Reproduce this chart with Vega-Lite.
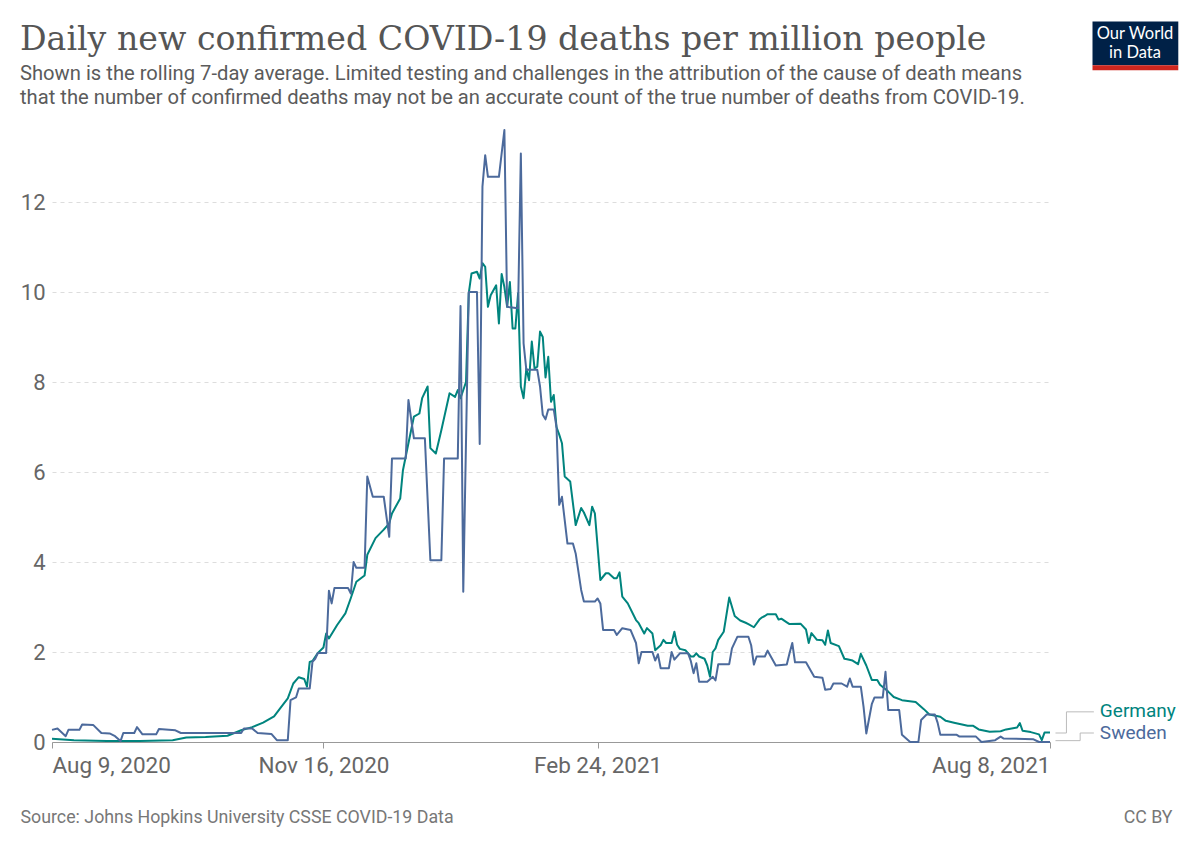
{
  "$schema": "https://vega.github.io/schema/vega-lite/v6.json",
  "width": 998,
  "height": 612,
  "autosize": "none",
  "padding": {"left": 52, "top": 130, "right": 150, "bottom": 105},
  "background": "white",
  "title": {
    "text": "Daily new confirmed COVID-19 deaths per million people",
    "subtitle": [
      "Shown is the rolling 7-day average. Limited testing and challenges in the attribution of the cause of death means",
      "that the number of confirmed deaths may not be an accurate count of the true number of deaths from COVID-19."
    ],
    "anchor": "start",
    "frame": "group",
    "dx": -32,
    "offset": -88,
    "font": "DejaVu Serif",
    "fontSize": 33.2,
    "fontWeight": "normal",
    "color": "#555555",
    "subtitleFont": "Roboto",
    "subtitleFontSize": 20.2,
    "subtitleColor": "#5b5b5b",
    "subtitleLineHeight": 24,
    "subtitlePadding": 7
  },
  "datasets": {
    "deaths": [
      {"country": "Germany", "date": "2020-08-09", "value": 0.07},
      {"country": "Germany", "date": "2020-08-17", "value": 0.04},
      {"country": "Germany", "date": "2020-08-29", "value": 0.02},
      {"country": "Germany", "date": "2020-09-10", "value": 0.02},
      {"country": "Germany", "date": "2020-09-22", "value": 0.04},
      {"country": "Germany", "date": "2020-09-27", "value": 0.1},
      {"country": "Germany", "date": "2020-10-04", "value": 0.11},
      {"country": "Germany", "date": "2020-10-12", "value": 0.14},
      {"country": "Germany", "date": "2020-10-17", "value": 0.26},
      {"country": "Germany", "date": "2020-10-21", "value": 0.33},
      {"country": "Germany", "date": "2020-10-25", "value": 0.43},
      {"country": "Germany", "date": "2020-10-29", "value": 0.57},
      {"country": "Germany", "date": "2020-10-31", "value": 0.73},
      {"country": "Germany", "date": "2020-11-03", "value": 0.97},
      {"country": "Germany", "date": "2020-11-05", "value": 1.3},
      {"country": "Germany", "date": "2020-11-07", "value": 1.44},
      {"country": "Germany", "date": "2020-11-09", "value": 1.4},
      {"country": "Germany", "date": "2020-11-10", "value": 1.23},
      {"country": "Germany", "date": "2020-11-11", "value": 1.78},
      {"country": "Germany", "date": "2020-11-12", "value": 1.8},
      {"country": "Germany", "date": "2020-11-14", "value": 1.98},
      {"country": "Germany", "date": "2020-11-16", "value": 2.1},
      {"country": "Germany", "date": "2020-11-17", "value": 2.41},
      {"country": "Germany", "date": "2020-11-18", "value": 2.3},
      {"country": "Germany", "date": "2020-11-21", "value": 2.6},
      {"country": "Germany", "date": "2020-11-24", "value": 2.86},
      {"country": "Germany", "date": "2020-11-26", "value": 3.2},
      {"country": "Germany", "date": "2020-11-28", "value": 3.56},
      {"country": "Germany", "date": "2020-12-01", "value": 3.7},
      {"country": "Germany", "date": "2020-12-02", "value": 4.16},
      {"country": "Germany", "date": "2020-12-05", "value": 4.53},
      {"country": "Germany", "date": "2020-12-08", "value": 4.72},
      {"country": "Germany", "date": "2020-12-10", "value": 4.86},
      {"country": "Germany", "date": "2020-12-11", "value": 5.08},
      {"country": "Germany", "date": "2020-12-14", "value": 5.41},
      {"country": "Germany", "date": "2020-12-15", "value": 6.04},
      {"country": "Germany", "date": "2020-12-17", "value": 6.64},
      {"country": "Germany", "date": "2020-12-19", "value": 7.23},
      {"country": "Germany", "date": "2020-12-21", "value": 7.3},
      {"country": "Germany", "date": "2020-12-22", "value": 7.64},
      {"country": "Germany", "date": "2020-12-24", "value": 7.9},
      {"country": "Germany", "date": "2020-12-25", "value": 6.53},
      {"country": "Germany", "date": "2020-12-27", "value": 6.41},
      {"country": "Germany", "date": "2020-12-29", "value": 6.93},
      {"country": "Germany", "date": "2021-01-01", "value": 7.75},
      {"country": "Germany", "date": "2021-01-03", "value": 7.67},
      {"country": "Germany", "date": "2021-01-04", "value": 7.82},
      {"country": "Germany", "date": "2021-01-05", "value": 7.64},
      {"country": "Germany", "date": "2021-01-07", "value": 8.0},
      {"country": "Germany", "date": "2021-01-08", "value": 9.97},
      {"country": "Germany", "date": "2021-01-09", "value": 10.41},
      {"country": "Germany", "date": "2021-01-11", "value": 10.45},
      {"country": "Germany", "date": "2021-01-12", "value": 10.3},
      {"country": "Germany", "date": "2021-01-13", "value": 10.64},
      {"country": "Germany", "date": "2021-01-14", "value": 10.56},
      {"country": "Germany", "date": "2021-01-15", "value": 9.67},
      {"country": "Germany", "date": "2021-01-16", "value": 9.93},
      {"country": "Germany", "date": "2021-01-18", "value": 10.15},
      {"country": "Germany", "date": "2021-01-19", "value": 9.3},
      {"country": "Germany", "date": "2021-01-20", "value": 10.4},
      {"country": "Germany", "date": "2021-01-21", "value": 10.11},
      {"country": "Germany", "date": "2021-01-22", "value": 9.67},
      {"country": "Germany", "date": "2021-01-23", "value": 10.22},
      {"country": "Germany", "date": "2021-01-24", "value": 9.19},
      {"country": "Germany", "date": "2021-01-25", "value": 9.19},
      {"country": "Germany", "date": "2021-01-26", "value": 9.97},
      {"country": "Germany", "date": "2021-01-27", "value": 7.9},
      {"country": "Germany", "date": "2021-01-28", "value": 7.64},
      {"country": "Germany", "date": "2021-01-29", "value": 8.3},
      {"country": "Germany", "date": "2021-01-30", "value": 8.04},
      {"country": "Germany", "date": "2021-01-31", "value": 8.9},
      {"country": "Germany", "date": "2021-02-01", "value": 8.3},
      {"country": "Germany", "date": "2021-02-02", "value": 8.34},
      {"country": "Germany", "date": "2021-02-03", "value": 9.12},
      {"country": "Germany", "date": "2021-02-04", "value": 9.0},
      {"country": "Germany", "date": "2021-02-05", "value": 8.1},
      {"country": "Germany", "date": "2021-02-06", "value": 8.56},
      {"country": "Germany", "date": "2021-02-07", "value": 7.56},
      {"country": "Germany", "date": "2021-02-08", "value": 7.71},
      {"country": "Germany", "date": "2021-02-09", "value": 7.0},
      {"country": "Germany", "date": "2021-02-10", "value": 6.83},
      {"country": "Germany", "date": "2021-02-11", "value": 6.64},
      {"country": "Germany", "date": "2021-02-12", "value": 5.9},
      {"country": "Germany", "date": "2021-02-14", "value": 5.79},
      {"country": "Germany", "date": "2021-02-16", "value": 4.82},
      {"country": "Germany", "date": "2021-02-18", "value": 5.2},
      {"country": "Germany", "date": "2021-02-19", "value": 5.1},
      {"country": "Germany", "date": "2021-02-21", "value": 4.82},
      {"country": "Germany", "date": "2021-02-22", "value": 5.23},
      {"country": "Germany", "date": "2021-02-23", "value": 5.08},
      {"country": "Germany", "date": "2021-02-25", "value": 3.6},
      {"country": "Germany", "date": "2021-02-27", "value": 3.75},
      {"country": "Germany", "date": "2021-02-28", "value": 3.75},
      {"country": "Germany", "date": "2021-03-02", "value": 3.64},
      {"country": "Germany", "date": "2021-03-03", "value": 3.64},
      {"country": "Germany", "date": "2021-03-04", "value": 3.77},
      {"country": "Germany", "date": "2021-03-05", "value": 3.23},
      {"country": "Germany", "date": "2021-03-07", "value": 3.08},
      {"country": "Germany", "date": "2021-03-10", "value": 2.71},
      {"country": "Germany", "date": "2021-03-11", "value": 2.64},
      {"country": "Germany", "date": "2021-03-13", "value": 2.41},
      {"country": "Germany", "date": "2021-03-14", "value": 2.53},
      {"country": "Germany", "date": "2021-03-16", "value": 2.41},
      {"country": "Germany", "date": "2021-03-17", "value": 2.04},
      {"country": "Germany", "date": "2021-03-19", "value": 2.15},
      {"country": "Germany", "date": "2021-03-20", "value": 2.27},
      {"country": "Germany", "date": "2021-03-21", "value": 2.2},
      {"country": "Germany", "date": "2021-03-23", "value": 2.2},
      {"country": "Germany", "date": "2021-03-24", "value": 2.45},
      {"country": "Germany", "date": "2021-03-25", "value": 2.16},
      {"country": "Germany", "date": "2021-03-26", "value": 2.07},
      {"country": "Germany", "date": "2021-03-28", "value": 2.04},
      {"country": "Germany", "date": "2021-03-30", "value": 1.9},
      {"country": "Germany", "date": "2021-03-31", "value": 1.9},
      {"country": "Germany", "date": "2021-04-01", "value": 1.97},
      {"country": "Germany", "date": "2021-04-02", "value": 1.9},
      {"country": "Germany", "date": "2021-04-04", "value": 1.85},
      {"country": "Germany", "date": "2021-04-05", "value": 1.7},
      {"country": "Germany", "date": "2021-04-06", "value": 1.45},
      {"country": "Germany", "date": "2021-04-07", "value": 2.0},
      {"country": "Germany", "date": "2021-04-08", "value": 2.08},
      {"country": "Germany", "date": "2021-04-09", "value": 2.27},
      {"country": "Germany", "date": "2021-04-11", "value": 2.45},
      {"country": "Germany", "date": "2021-04-13", "value": 3.21},
      {"country": "Germany", "date": "2021-04-15", "value": 2.8},
      {"country": "Germany", "date": "2021-04-17", "value": 2.7},
      {"country": "Germany", "date": "2021-04-19", "value": 2.65},
      {"country": "Germany", "date": "2021-04-20", "value": 2.62},
      {"country": "Germany", "date": "2021-04-22", "value": 2.55},
      {"country": "Germany", "date": "2021-04-24", "value": 2.72},
      {"country": "Germany", "date": "2021-04-25", "value": 2.77},
      {"country": "Germany", "date": "2021-04-26", "value": 2.8},
      {"country": "Germany", "date": "2021-04-27", "value": 2.84},
      {"country": "Germany", "date": "2021-04-30", "value": 2.84},
      {"country": "Germany", "date": "2021-05-01", "value": 2.72},
      {"country": "Germany", "date": "2021-05-02", "value": 2.74},
      {"country": "Germany", "date": "2021-05-04", "value": 2.66},
      {"country": "Germany", "date": "2021-05-05", "value": 2.62},
      {"country": "Germany", "date": "2021-05-09", "value": 2.63},
      {"country": "Germany", "date": "2021-05-11", "value": 2.5},
      {"country": "Germany", "date": "2021-05-12", "value": 2.2},
      {"country": "Germany", "date": "2021-05-13", "value": 2.42},
      {"country": "Germany", "date": "2021-05-15", "value": 2.27},
      {"country": "Germany", "date": "2021-05-17", "value": 2.26},
      {"country": "Germany", "date": "2021-05-18", "value": 2.16},
      {"country": "Germany", "date": "2021-05-19", "value": 2.48},
      {"country": "Germany", "date": "2021-05-20", "value": 2.2},
      {"country": "Germany", "date": "2021-05-23", "value": 2.13},
      {"country": "Germany", "date": "2021-05-25", "value": 1.85},
      {"country": "Germany", "date": "2021-05-26", "value": 1.84},
      {"country": "Germany", "date": "2021-05-28", "value": 1.81},
      {"country": "Germany", "date": "2021-05-30", "value": 1.73},
      {"country": "Germany", "date": "2021-05-31", "value": 1.96},
      {"country": "Germany", "date": "2021-06-02", "value": 1.7},
      {"country": "Germany", "date": "2021-06-04", "value": 1.38},
      {"country": "Germany", "date": "2021-06-06", "value": 1.38},
      {"country": "Germany", "date": "2021-06-07", "value": 1.27},
      {"country": "Germany", "date": "2021-06-10", "value": 1.12},
      {"country": "Germany", "date": "2021-06-12", "value": 1.0},
      {"country": "Germany", "date": "2021-06-15", "value": 0.93},
      {"country": "Germany", "date": "2021-06-20", "value": 0.89},
      {"country": "Germany", "date": "2021-06-23", "value": 0.73},
      {"country": "Germany", "date": "2021-06-25", "value": 0.61},
      {"country": "Germany", "date": "2021-06-29", "value": 0.56},
      {"country": "Germany", "date": "2021-07-01", "value": 0.47},
      {"country": "Germany", "date": "2021-07-04", "value": 0.43},
      {"country": "Germany", "date": "2021-07-09", "value": 0.36},
      {"country": "Germany", "date": "2021-07-11", "value": 0.36},
      {"country": "Germany", "date": "2021-07-13", "value": 0.28},
      {"country": "Germany", "date": "2021-07-17", "value": 0.23},
      {"country": "Germany", "date": "2021-07-21", "value": 0.24},
      {"country": "Germany", "date": "2021-07-23", "value": 0.28},
      {"country": "Germany", "date": "2021-07-27", "value": 0.32},
      {"country": "Germany", "date": "2021-07-28", "value": 0.42},
      {"country": "Germany", "date": "2021-07-29", "value": 0.25},
      {"country": "Germany", "date": "2021-08-01", "value": 0.22},
      {"country": "Germany", "date": "2021-08-04", "value": 0.17},
      {"country": "Germany", "date": "2021-08-05", "value": 0.04},
      {"country": "Germany", "date": "2021-08-06", "value": 0.21},
      {"country": "Germany", "date": "2021-08-08", "value": 0.21},
      {"country": "Sweden", "date": "2020-08-09", "value": 0.27},
      {"country": "Sweden", "date": "2020-08-11", "value": 0.3},
      {"country": "Sweden", "date": "2020-08-14", "value": 0.13},
      {"country": "Sweden", "date": "2020-08-15", "value": 0.27},
      {"country": "Sweden", "date": "2020-08-19", "value": 0.27},
      {"country": "Sweden", "date": "2020-08-20", "value": 0.39},
      {"country": "Sweden", "date": "2020-08-24", "value": 0.38},
      {"country": "Sweden", "date": "2020-08-27", "value": 0.2},
      {"country": "Sweden", "date": "2020-08-30", "value": 0.19},
      {"country": "Sweden", "date": "2020-09-01", "value": 0.13},
      {"country": "Sweden", "date": "2020-09-03", "value": 0.02},
      {"country": "Sweden", "date": "2020-09-04", "value": 0.2},
      {"country": "Sweden", "date": "2020-09-08", "value": 0.2},
      {"country": "Sweden", "date": "2020-09-09", "value": 0.33},
      {"country": "Sweden", "date": "2020-09-11", "value": 0.17},
      {"country": "Sweden", "date": "2020-09-16", "value": 0.17},
      {"country": "Sweden", "date": "2020-09-17", "value": 0.29},
      {"country": "Sweden", "date": "2020-09-23", "value": 0.26},
      {"country": "Sweden", "date": "2020-09-25", "value": 0.2},
      {"country": "Sweden", "date": "2020-10-17", "value": 0.2},
      {"country": "Sweden", "date": "2020-10-18", "value": 0.3},
      {"country": "Sweden", "date": "2020-10-21", "value": 0.3},
      {"country": "Sweden", "date": "2020-10-23", "value": 0.2},
      {"country": "Sweden", "date": "2020-10-28", "value": 0.18},
      {"country": "Sweden", "date": "2020-10-30", "value": 0.04},
      {"country": "Sweden", "date": "2020-11-03", "value": 0.04},
      {"country": "Sweden", "date": "2020-11-04", "value": 0.93},
      {"country": "Sweden", "date": "2020-11-06", "value": 0.99},
      {"country": "Sweden", "date": "2020-11-07", "value": 1.19},
      {"country": "Sweden", "date": "2020-11-11", "value": 1.19},
      {"country": "Sweden", "date": "2020-11-12", "value": 1.78},
      {"country": "Sweden", "date": "2020-11-13", "value": 1.85},
      {"country": "Sweden", "date": "2020-11-14", "value": 1.98},
      {"country": "Sweden", "date": "2020-11-17", "value": 1.98},
      {"country": "Sweden", "date": "2020-11-18", "value": 3.36},
      {"country": "Sweden", "date": "2020-11-19", "value": 3.08},
      {"country": "Sweden", "date": "2020-11-20", "value": 3.42},
      {"country": "Sweden", "date": "2020-11-25", "value": 3.42},
      {"country": "Sweden", "date": "2020-11-26", "value": 3.3},
      {"country": "Sweden", "date": "2020-11-27", "value": 4.0},
      {"country": "Sweden", "date": "2020-11-28", "value": 3.87},
      {"country": "Sweden", "date": "2020-12-01", "value": 3.87},
      {"country": "Sweden", "date": "2020-12-02", "value": 5.9},
      {"country": "Sweden", "date": "2020-12-04", "value": 5.45},
      {"country": "Sweden", "date": "2020-12-08", "value": 5.45},
      {"country": "Sweden", "date": "2020-12-10", "value": 4.56},
      {"country": "Sweden", "date": "2020-12-11", "value": 6.3},
      {"country": "Sweden", "date": "2020-12-16", "value": 6.3},
      {"country": "Sweden", "date": "2020-12-17", "value": 7.6},
      {"country": "Sweden", "date": "2020-12-19", "value": 6.75},
      {"country": "Sweden", "date": "2020-12-23", "value": 6.75},
      {"country": "Sweden", "date": "2020-12-25", "value": 4.04},
      {"country": "Sweden", "date": "2020-12-29", "value": 4.04},
      {"country": "Sweden", "date": "2020-12-30", "value": 6.3},
      {"country": "Sweden", "date": "2021-01-04", "value": 6.3},
      {"country": "Sweden", "date": "2021-01-05", "value": 9.69},
      {"country": "Sweden", "date": "2021-01-06", "value": 3.34},
      {"country": "Sweden", "date": "2021-01-08", "value": 10.0},
      {"country": "Sweden", "date": "2021-01-11", "value": 10.0},
      {"country": "Sweden", "date": "2021-01-12", "value": 6.62},
      {"country": "Sweden", "date": "2021-01-13", "value": 12.34},
      {"country": "Sweden", "date": "2021-01-14", "value": 13.04},
      {"country": "Sweden", "date": "2021-01-15", "value": 12.56},
      {"country": "Sweden", "date": "2021-01-19", "value": 12.56},
      {"country": "Sweden", "date": "2021-01-21", "value": 13.6},
      {"country": "Sweden", "date": "2021-01-22", "value": 9.67},
      {"country": "Sweden", "date": "2021-01-26", "value": 9.64},
      {"country": "Sweden", "date": "2021-01-27", "value": 13.08},
      {"country": "Sweden", "date": "2021-01-28", "value": 8.86},
      {"country": "Sweden", "date": "2021-01-29", "value": 8.27},
      {"country": "Sweden", "date": "2021-02-02", "value": 8.27},
      {"country": "Sweden", "date": "2021-02-03", "value": 7.9},
      {"country": "Sweden", "date": "2021-02-04", "value": 7.27},
      {"country": "Sweden", "date": "2021-02-05", "value": 7.17},
      {"country": "Sweden", "date": "2021-02-06", "value": 7.39},
      {"country": "Sweden", "date": "2021-02-08", "value": 7.39},
      {"country": "Sweden", "date": "2021-02-09", "value": 7.0},
      {"country": "Sweden", "date": "2021-02-10", "value": 5.27},
      {"country": "Sweden", "date": "2021-02-11", "value": 5.45},
      {"country": "Sweden", "date": "2021-02-12", "value": 4.93},
      {"country": "Sweden", "date": "2021-02-13", "value": 4.41},
      {"country": "Sweden", "date": "2021-02-15", "value": 4.41},
      {"country": "Sweden", "date": "2021-02-16", "value": 4.19},
      {"country": "Sweden", "date": "2021-02-18", "value": 3.38},
      {"country": "Sweden", "date": "2021-02-19", "value": 3.12},
      {"country": "Sweden", "date": "2021-02-23", "value": 3.12},
      {"country": "Sweden", "date": "2021-02-24", "value": 3.19},
      {"country": "Sweden", "date": "2021-02-25", "value": 3.08},
      {"country": "Sweden", "date": "2021-02-26", "value": 2.49},
      {"country": "Sweden", "date": "2021-03-02", "value": 2.49},
      {"country": "Sweden", "date": "2021-03-03", "value": 2.38},
      {"country": "Sweden", "date": "2021-03-05", "value": 2.53},
      {"country": "Sweden", "date": "2021-03-08", "value": 2.49},
      {"country": "Sweden", "date": "2021-03-10", "value": 2.2},
      {"country": "Sweden", "date": "2021-03-11", "value": 1.75},
      {"country": "Sweden", "date": "2021-03-12", "value": 2.0},
      {"country": "Sweden", "date": "2021-03-16", "value": 2.0},
      {"country": "Sweden", "date": "2021-03-17", "value": 1.81},
      {"country": "Sweden", "date": "2021-03-18", "value": 1.95},
      {"country": "Sweden", "date": "2021-03-19", "value": 1.64},
      {"country": "Sweden", "date": "2021-03-22", "value": 1.64},
      {"country": "Sweden", "date": "2021-03-23", "value": 2.0},
      {"country": "Sweden", "date": "2021-03-24", "value": 1.83},
      {"country": "Sweden", "date": "2021-03-26", "value": 1.97},
      {"country": "Sweden", "date": "2021-03-29", "value": 1.97},
      {"country": "Sweden", "date": "2021-03-30", "value": 1.8},
      {"country": "Sweden", "date": "2021-03-31", "value": 1.53},
      {"country": "Sweden", "date": "2021-04-01", "value": 1.75},
      {"country": "Sweden", "date": "2021-04-02", "value": 1.34},
      {"country": "Sweden", "date": "2021-04-05", "value": 1.34},
      {"country": "Sweden", "date": "2021-04-07", "value": 1.45},
      {"country": "Sweden", "date": "2021-04-08", "value": 1.37},
      {"country": "Sweden", "date": "2021-04-09", "value": 1.73},
      {"country": "Sweden", "date": "2021-04-13", "value": 1.73},
      {"country": "Sweden", "date": "2021-04-14", "value": 2.08},
      {"country": "Sweden", "date": "2021-04-16", "value": 2.34},
      {"country": "Sweden", "date": "2021-04-20", "value": 2.34},
      {"country": "Sweden", "date": "2021-04-21", "value": 2.15},
      {"country": "Sweden", "date": "2021-04-22", "value": 1.72},
      {"country": "Sweden", "date": "2021-04-23", "value": 1.9},
      {"country": "Sweden", "date": "2021-04-26", "value": 1.9},
      {"country": "Sweden", "date": "2021-04-27", "value": 2.03},
      {"country": "Sweden", "date": "2021-04-30", "value": 1.7},
      {"country": "Sweden", "date": "2021-05-04", "value": 1.72},
      {"country": "Sweden", "date": "2021-05-05", "value": 1.97},
      {"country": "Sweden", "date": "2021-05-06", "value": 2.2},
      {"country": "Sweden", "date": "2021-05-07", "value": 1.77},
      {"country": "Sweden", "date": "2021-05-11", "value": 1.77},
      {"country": "Sweden", "date": "2021-05-14", "value": 1.45},
      {"country": "Sweden", "date": "2021-05-17", "value": 1.43},
      {"country": "Sweden", "date": "2021-05-18", "value": 1.16},
      {"country": "Sweden", "date": "2021-05-20", "value": 1.18},
      {"country": "Sweden", "date": "2021-05-21", "value": 1.3},
      {"country": "Sweden", "date": "2021-05-24", "value": 1.3},
      {"country": "Sweden", "date": "2021-05-26", "value": 1.23},
      {"country": "Sweden", "date": "2021-05-27", "value": 1.41},
      {"country": "Sweden", "date": "2021-05-28", "value": 1.23},
      {"country": "Sweden", "date": "2021-05-31", "value": 1.23},
      {"country": "Sweden", "date": "2021-06-01", "value": 0.78},
      {"country": "Sweden", "date": "2021-06-02", "value": 0.19},
      {"country": "Sweden", "date": "2021-06-04", "value": 0.84},
      {"country": "Sweden", "date": "2021-06-05", "value": 0.99},
      {"country": "Sweden", "date": "2021-06-08", "value": 0.99},
      {"country": "Sweden", "date": "2021-06-09", "value": 1.56},
      {"country": "Sweden", "date": "2021-06-10", "value": 0.71},
      {"country": "Sweden", "date": "2021-06-14", "value": 0.71},
      {"country": "Sweden", "date": "2021-06-15", "value": 0.16},
      {"country": "Sweden", "date": "2021-06-18", "value": 0},
      {"country": "Sweden", "date": "2021-06-21", "value": 0},
      {"country": "Sweden", "date": "2021-06-22", "value": 0.49},
      {"country": "Sweden", "date": "2021-06-24", "value": 0.61},
      {"country": "Sweden", "date": "2021-06-27", "value": 0.61},
      {"country": "Sweden", "date": "2021-06-28", "value": 0.43},
      {"country": "Sweden", "date": "2021-06-29", "value": 0.16},
      {"country": "Sweden", "date": "2021-07-05", "value": 0.16},
      {"country": "Sweden", "date": "2021-07-06", "value": 0.12},
      {"country": "Sweden", "date": "2021-07-12", "value": 0.12},
      {"country": "Sweden", "date": "2021-07-14", "value": 0},
      {"country": "Sweden", "date": "2021-07-19", "value": 0.04},
      {"country": "Sweden", "date": "2021-07-21", "value": 0.12},
      {"country": "Sweden", "date": "2021-07-22", "value": 0.08},
      {"country": "Sweden", "date": "2021-08-02", "value": 0.06},
      {"country": "Sweden", "date": "2021-08-04", "value": 0},
      {"country": "Sweden", "date": "2021-08-08", "value": 0}
    ],
    "connectors": [
      {"country": "Germany", "date": "2021-08-10", "value": 0.2},
      {"country": "Germany", "date": "2021-08-14", "value": 0.2},
      {"country": "Germany", "date": "2021-08-14", "value": 0.67},
      {"country": "Germany", "date": "2021-08-24", "value": 0.67},
      {"country": "Sweden", "date": "2021-08-10", "value": 0.03},
      {"country": "Sweden", "date": "2021-08-19", "value": 0.03},
      {"country": "Sweden", "date": "2021-08-19", "value": 0.2},
      {"country": "Sweden", "date": "2021-08-24", "value": 0.2}
    ]
  },
  "layer": [
    {
      "data": {"name": "deaths"},
      "mark": {"type": "line", "strokeWidth": 2, "strokeJoin": "round"},
      "encoding": {
        "x": {
          "field": "date",
          "type": "temporal",
          "scale": {
            "type": "utc",
            "domain": [
              {"year": 2020, "month": 8, "date": 9, "utc": true},
              {"year": 2021, "month": 8, "date": 8, "utc": true}
            ]
          },
          "axis": {
            "values": [
              {"year": 2020, "month": 8, "date": 9, "utc": true},
              {"year": 2020, "month": 11, "date": 16, "utc": true},
              {"year": 2021, "month": 2, "date": 24, "utc": true},
              {"year": 2021, "month": 8, "date": 8, "utc": true}
            ],
            "labelExpr": "utcFormat(datum.value, '%b %-d, %Y')",
            "labelFlush": true,
            "labelOverlap": false,
            "grid": false,
            "domainColor": "#999999",
            "tickColor": "#999999",
            "tickSize": 6,
            "labelFont": "Roboto",
            "labelFontSize": 22.5,
            "labelColor": "#666666",
            "labelPadding": 6,
            "title": "Source: Johns Hopkins University CSSE COVID-19 Data",
            "titleX": -32,
            "titleY": 80,
            "titleAlign": "left",
            "titleBaseline": "alphabetic",
            "titleFont": "Roboto",
            "titleFontSize": 17.8,
            "titleFontWeight": "normal",
            "titleColor": "#777777"
          }
        },
        "y": {
          "field": "value",
          "type": "quantitative",
          "scale": {"domain": [0, 13.6], "nice": false},
          "axis": {
            "values": [0, 2, 4, 6, 8, 10, 12],
            "grid": true,
            "gridDash": [4, 4],
            "gridColor": "#dddddd",
            "domain": false,
            "ticks": false,
            "labelFont": "Roboto",
            "labelFontSize": 22,
            "labelColor": "#666666",
            "labelPadding": 7,
            "title": "CC BY",
            "titleAngle": 0,
            "titleX": 1120,
            "titleY": 692,
            "titleAlign": "right",
            "titleBaseline": "alphabetic",
            "titleFont": "Roboto",
            "titleFontSize": 17.8,
            "titleFontWeight": "normal",
            "titleColor": "#777777"
          }
        },
        "color": {
          "field": "country",
          "type": "nominal",
          "scale": {"domain": ["Germany", "Sweden"], "range": ["#00847e", "#4c6a9c"]},
          "legend": null
        }
      }
    },
    {
      "data": {"name": "connectors"},
      "mark": {"type": "line", "color": "#bbbbbb", "strokeWidth": 1},
      "encoding": {
        "x": {"field": "date", "type": "temporal"},
        "y": {"field": "value", "type": "quantitative"},
        "detail": {"field": "country"}
      }
    },
    {
      "data": {"values": [{}]},
      "mark": {"type": "text", "align": "left", "baseline": "middle", "dx": 6, "font": "Roboto", "fontSize": 19, "color": "#00847e"},
      "encoding": {
        "x": {"datum": {"year": 2021, "month": 8, "date": 24, "utc": true}, "type": "temporal"},
        "y": {"datum": 0.69, "type": "quantitative"},
        "text": {"value": "Germany"}
      }
    },
    {
      "data": {"values": [{}]},
      "mark": {"type": "text", "align": "left", "baseline": "middle", "dx": 6, "font": "Roboto", "fontSize": 19, "color": "#4c6a9c"},
      "encoding": {
        "x": {"datum": {"year": 2021, "month": 8, "date": 24, "utc": true}, "type": "temporal"},
        "y": {"datum": 0.2, "type": "quantitative"},
        "text": {"value": "Sweden"}
      }
    },
    {
      "data": {"values": [{}]},
      "mark": {"type": "rect", "color": "#002147"},
      "encoding": {
        "x": {"datum": {"year": 2021, "month": 8, "date": 23, "hours": 12, "utc": true}, "type": "temporal"},
        "x2": {"datum": {"year": 2021, "month": 9, "date": 23, "hours": 19, "utc": true}},
        "y": {"datum": 16.01, "type": "quantitative"},
        "y2": {"datum": 15.04}
      }
    },
    {
      "data": {"values": [{}]},
      "mark": {"type": "rect", "color": "#ce261e"},
      "encoding": {
        "x": {"datum": {"year": 2021, "month": 8, "date": 23, "hours": 12, "utc": true}, "type": "temporal"},
        "x2": {"datum": {"year": 2021, "month": 9, "date": 23, "hours": 19, "utc": true}},
        "y": {"datum": 15.04, "type": "quantitative"},
        "y2": {"datum": 14.93}
      }
    },
    {
      "data": {"values": [{}]},
      "mark": {"type": "text", "align": "center", "baseline": "middle", "font": "Lato", "fontSize": 16.5, "color": "white"},
      "encoding": {
        "x": {"datum": {"year": 2021, "month": 9, "date": 8, "utc": true}, "type": "temporal"},
        "y": {"datum": 15.73, "type": "quantitative"},
        "text": {"value": "Our World"}
      }
    },
    {
      "data": {"values": [{}]},
      "mark": {"type": "text", "align": "center", "baseline": "middle", "font": "Lato", "fontSize": 16.5, "color": "white"},
      "encoding": {
        "x": {"datum": {"year": 2021, "month": 9, "date": 8, "utc": true}, "type": "temporal"},
        "y": {"datum": 15.31, "type": "quantitative"},
        "text": {"value": "in Data"}
      }
    }
  ],
  "config": {
    "view": {"stroke": null},
    "font": "Roboto"
  }
}
